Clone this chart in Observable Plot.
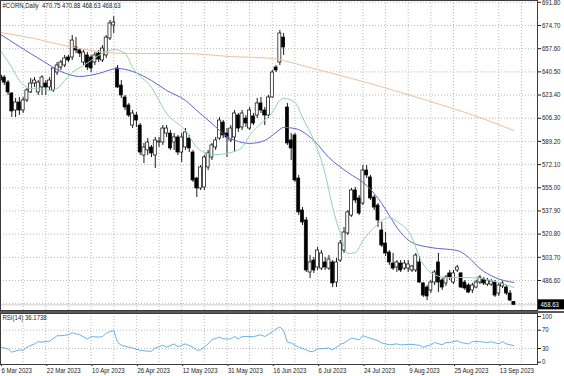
<!DOCTYPE html>
<html><head><meta charset="utf-8">
<script src="https://cdn.jsdelivr.net/npm/d3@7"></script>
<script src="https://cdn.jsdelivr.net/npm/@observablehq/plot@0.6"></script>
<style>
html,body{margin:0;padding:0;background:#fff;}
#chart{width:564px;height:376px;overflow:hidden;position:relative;}
#chart svg{display:block;}
#main svg{border-bottom:2px solid #5a5a5a;}
</style></head>
<body><div id="chart"><div id="main"></div><div id="rsi"></div></div>
<script>
const symbolTitle = "#CORN,Daily\u00a0 470.75 470.88 468.63 468.63";
const rsiTitle = "RSI(14) 36.1738";

const opens = [637.8,636.3,632.6,624.5,612.0,617.9,612.0,619.4,625.3,631.9,
625.3,629.0,631.9,629.0,626.8,640.0,643.7,645.2,651.1,651.1,
658.5,656.3,647.4,652.6,651.1,647.4,654.0,648.9,652.6,665.1,
674.7,643.0,630.4,621.6,615.7,600.9,608.3,600.9,578.8,582.5,
584.7,578.8,588.4,588.4,595.0,595.0,588.4,592.1,581.0,584.7,
591.3,581.0,561.8,554.5,555.2,570.0,577.3,584.7,591.3,603.1,
595.0,589.9,592.1,608.3,599.5,606.1,598.7,607.6,608.3,617.2,
612.0,608.3,621.6,643.7,647.4,665.8,614.2,589.9,593.6,561.8,
538.2,530.9,492.5,501.3,496.2,495.4,499.9,495.4,499.9,485.1,
501.3,508.7,521.3,534.5,553.0,547.1,543.4,567.7,562.6,547.8,
541.9,523.5,513.9,507.2,499.1,496.2,499.1,495.4,495.4,494.0,
494.0,499.9,484.4,481.4,479.2,485.1,499.9,486.6,484.4,491.8,
485.1,494.0,491.8,485.1,482.9,479.2,481.4,485.1,487.3,483.6,
483.6,485.1,477.0,482.2,481.4,477.0,470.75];
const highs = [640.0,637.8,634.1,625.3,620.9,621.6,621.6,628.2,635.6,636.3,
634.1,637.8,634.1,636.3,643.7,647.4,648.9,652.6,652.6,667.3,
665.8,657.7,656.3,654.8,652.6,654.8,656.3,659.9,667.3,678.4,
681.3,645.2,634.1,623.1,617.2,612.0,610.5,602.4,587.7,591.3,
586.2,592.1,592.1,600.9,600.9,597.2,595.0,593.6,595.0,598.7,
593.6,582.5,562.6,571.4,578.8,582.5,587.7,592.1,606.8,604.6,
598.7,600.9,612.0,609.8,612.0,608.3,614.2,609.8,620.9,621.6,
614.2,623.1,641.5,645.2,671.0,668.8,617.2,595.0,595.0,564.1,
540.4,533.1,505.0,503.6,510.9,508.7,503.6,505.0,501.3,502.8,
516.1,525.7,538.2,554.5,555.2,549.3,571.4,571.4,564.1,549.3,
543.4,529.4,522.0,508.7,506.5,501.3,501.3,501.3,501.3,497.7,
506.5,504.3,485.1,482.9,486.6,494.0,506.5,488.1,490.3,494.0,
494.0,497.7,492.5,486.6,484.4,484.4,486.6,490.3,488.8,488.1,
487.3,486.6,484.4,485.9,482.9,479.2,470.88];
const lows = [631.9,630.4,623.1,606.8,606.8,608.3,609.8,617.9,624.5,629.0,
623.1,623.1,623.1,626.8,625.3,637.8,641.5,643.7,647.4,648.9,
654.0,651.1,645.2,641.5,640.0,645.2,647.4,647.4,650.4,663.6,
668.8,628.2,620.9,612.0,606.8,598.7,599.5,578.8,572.9,578.8,
577.3,569.2,584.7,586.2,592.1,582.5,582.5,578.8,573.6,582.5,
581.0,558.9,547.8,553.0,553.0,567.7,575.1,582.5,589.9,591.3,
577.3,588.4,581.0,595.8,597.2,599.5,597.2,600.9,606.1,609.8,
600.9,606.1,620.9,640.0,645.2,652.6,586.2,575.1,558.9,534.5,
527.2,492.5,488.1,491.8,494.0,494.0,494.0,494.0,481.4,481.4,
499.9,506.5,519.8,533.1,543.4,534.5,541.9,561.8,545.6,538.2,
525.7,510.9,504.3,497.7,494.0,492.5,492.5,494.0,492.5,492.5,
492.5,484.4,474.1,471.8,477.0,482.9,477.7,479.2,482.2,486.6,
483.6,492.5,480.7,479.2,477.0,477.0,480.7,483.6,482.9,482.2,
482.2,474.1,474.8,480.7,475.5,471.1,468.63];
const closes = [634.1,632.6,625.3,611.3,617.9,612.0,619.4,626.8,631.9,634.1,
632.6,636.3,629.0,634.1,643.0,645.2,647.4,650.4,648.9,663.6,
656.3,654.0,654.8,643.7,643.0,652.6,649.6,657.7,665.8,676.2,
676.9,629.0,623.1,614.2,608.3,609.8,604.6,581.0,584.7,588.4,
580.3,589.9,589.1,598.7,598.7,584.0,592.1,581.0,592.1,595.8,
584.0,560.4,554.5,570.0,577.3,580.3,586.2,589.9,604.6,593.6,
592.1,598.7,609.8,598.7,609.8,602.4,612.0,602.4,617.2,612.0,
608.3,621.6,640.0,641.5,668.8,658.5,587.7,584.0,560.4,536.8,
529.4,494.0,499.9,494.0,508.7,506.5,496.2,502.1,484.4,499.9,
513.9,522.0,536.8,553.0,545.6,536.0,567.7,564.1,547.1,540.4,
530.9,512.4,506.5,499.9,495.4,499.9,494.0,499.1,498.4,496.9,
505.0,485.1,475.5,474.8,485.1,492.5,485.1,481.4,488.8,488.8,
491.8,496.2,481.4,480.7,477.7,482.9,485.1,488.8,484.4,486.6,
485.9,475.5,482.9,484.4,477.0,471.8,468.63];

// moving averages (bar index, value)
const ma10Bars = [0,3,5,8,11,13,15,17,19,22,24,26,29,30,33,35,40,44,49,52,55,57,61,64,66,69,72,74,75,78,80,83,86,88,90,92,94,96,99,103,105,109,111,114,118,123,127,132,136];
const ma10Vals = [656.3,643.7,634.1,628.2,627.5,626.8,628.2,634.1,640.0,645.2,648.9,652.6,656.3,657.0,654.0,643.7,629.0,609.8,597.2,584.7,580.3,579.5,581.0,584.7,593.6,602.4,610.5,619.4,620.9,617.9,606.8,589.9,565.5,540.4,521.3,506.5,507.2,516.1,525.7,533.1,530.1,518.3,503.6,492.5,488.8,488.8,488.1,485.1,481.4];
const ma20Bars = [0,5,11,16,21,26,31,35,40,44,49,52,56,60,64,66,70,73,75,78,83,87,92,97,101,103,106,109,114,121,124,127,131,136];
const ma20Vals = [668.1,659.2,648.9,640.8,637.1,639.3,643.0,640.8,634.1,626.8,619.4,612.0,602.4,592.8,588.4,587.7,589.9,595.8,599.5,598.7,589.9,577.3,566.3,556.7,543.4,534.5,522.0,514.6,510.9,508.7,503.6,495.4,488.8,485.1];
const ma200Bars = [0,9,18,26,34,49,61,72,75,79,87,97,106,119,127,136];
const ma200Vals = [669.5,665.1,659.2,655.5,654.0,654.0,651.8,650.4,648.9,645.9,640.0,632.6,625.3,614.2,606.8,597.2];

const rsiBars = [0,2,3,5,6,7,9,10,11,13,15,16,18,19,21,23,24,26,27,28,29,30,31,32,34,35,37,39,40,41,43,44,46,47,49,51,52,53,55,56,58,59,61,62,63,64,67,69,70,72,73,74,75,76,77,79,81,82,83,84,87,88,90,91,93,94,95,96,97,100,101,103,105,106,109,111,112,114,115,117,118,119,121,122,124,125,127,129,130,132,133,134,136];
const rsiVals = [33,29,22,27,26,33,40,45,44,46,58,58,60,64,60,51,56,55,56,63,67,69,44,37,33,31,26,24,24,31,37,33,40,34,40,33,26,27,40,49,55,51,51,56,51,56,56,60,56,66,73,77,69,44,42,33,27,23,24,29,31,27,39,42,53,51,49,58,55,47,42,38,40,38,39,37,33,38,43,38,43,43,47,43,40,45,45,43,45,40,45,40,36.17];

const priceTicks = [691.8,674.7,657.6,640.5,623.4,606.3,589.2,572.1,555.0,537.9,520.8,503.7,486.6];
const priceGrid = [...priceTicks, 469.5];
const rsiTicks = [100,70,30,0];
const rsiLevels = [70,30];
const dateBars = [0,12,24,36,48,60,72,84,96,108,120,132];
const dateLabels = ["6 Mar 2023","22 Mar 2023","10 Apr 2023","26 Apr 2023","12 May 2023","31 May 2023","16 Jun 2023","6 Jul 2023","24 Jul 2023","9 Aug 2023","25 Aug 2023","13 Sep 2023"];
const gridBars = d3.range(6, 142, 6);

const candles = opens.map((o, i) => ({i, open: o, high: highs[i], low: lows[i], close: closes[i]}));
const pair = (bars, vals) => bars.map((b, k) => ({i: b, v: vals[k]}));
const ma10 = pair(ma10Bars, ma10Vals), ma20 = pair(ma20Bars, ma20Vals), ma200 = pair(ma200Bars, ma200Vals);
const rsi = pair(rsiBars, rsiVals);
const lastClose = closes[closes.length - 1];

const style = {fontFamily: "'Liberation Sans', Arial, sans-serif", fontSize: "7px", color: "#1a1a1a", background: "#fff", overflow: "visible"};
const gridOpts = {stroke: "#b9b9b9", strokeDasharray: "1,2", strokeWidth: 1};
const xDomain = [0, 142.25];

const mainChart = Plot.plot({
  width: 564, height: 311, marginLeft: 0, marginRight: 27, marginTop: 0, marginBottom: 1,
  style,
  x: {domain: xDomain, axis: null},
  y: {domain: [464.46, 693.14]},
  marks: [
    Plot.ruleY(priceGrid, gridOpts),
    Plot.ruleX(gridBars, gridOpts),
    Plot.ruleY([lastClose], {stroke: "#d0d0d0"}),
    Plot.ruleX(candles, {x: "i", y1: "low", y2: "high", stroke: "#000", strokeWidth: 0.9}),
    Plot.rect(candles, {x1: d => d.i - 0.4, x2: d => d.i + 0.4, y1: "open", y2: "close",
      fill: d => d.close >= d.open ? "#fff" : "#000", stroke: "#000", strokeWidth: 0.7}),
    Plot.line(ma200, {x: "i", y: "v", stroke: "#f0bf98", strokeWidth: 1, curve: "monotone-x"}),
    Plot.line(ma20, {x: "i", y: "v", stroke: "#6262d6", strokeWidth: 1, curve: "monotone-x"}),
    Plot.line(ma10, {x: "i", y: "v", stroke: "#90d2b6", strokeWidth: 1, curve: "monotone-x"}),
    Plot.axisY(priceTicks, {anchor: "right", tickSize: 3, tickPadding: 1.5, tickFormat: d3.format(".2f"), label: null}),
    Plot.text([symbolTitle], {text: d => d, frameAnchor: "top-left", dx: 2, dy: 3, textAnchor: "start", lineAnchor: "top", fill: "#1a1a1a"}),
    Plot.frame({stroke: "#3c3c3c"})
  ]
});

const rsiChart = Plot.plot({
  width: 564, height: 63, marginLeft: 0, marginRight: 27, marginTop: 0, marginBottom: 12,
  style,
  x: {domain: xDomain},
  y: {domain: [-5.03, 106.56]},
  marks: [
    Plot.ruleX(gridBars, gridOpts),
    Plot.ruleY(rsiLevels, gridOpts),
    Plot.line(rsi, {x: "i", y: "v", stroke: "#5aa8e6", strokeWidth: 0.9}),
    Plot.axisY(rsiTicks, {anchor: "right", tickSize: 3, tickPadding: 1.5, label: null}),
    Plot.axisX(dateBars, {anchor: "bottom", tickSize: 2, tickPadding: 2, textAnchor: "start", dx: 1,
      tickFormat: d => dateLabels[dateBars.indexOf(d)], label: null}),
    Plot.text([rsiTitle], {text: d => d, frameAnchor: "top-left", dx: 2, dy: 2, textAnchor: "start", lineAnchor: "top", fill: "#1a1a1a"}),
    Plot.frame({stroke: "#3c3c3c"})
  ]
});

document.getElementById("main").append(mainChart);
document.getElementById("rsi").append(rsiChart);

// current price tag on the price axis
const yy = mainChart.scale("y").apply(lastClose);
const tag = d3.select(mainChart).append("g").attr("text-anchor", "start");
tag.append("rect").attr("x", 538).attr("y", yy - 5).attr("width", 26).attr("height", 10).attr("fill", "#000");
tag.append("text").attr("x", 540.5).attr("y", yy).attr("dy", "0.35em").attr("fill", "#fff")
  .attr("text-anchor", "start").attr("font-size", 7).text(d3.format(".2f")(lastClose));

// narrow the text like the reference's condensed UI font
function squish(svg, k) {
  svg.querySelectorAll("text").forEach(t => {
    const w = t.getComputedTextLength();
    if (w > 0) { t.setAttribute("textLength", (w * k).toFixed(2)); t.setAttribute("lengthAdjust", "spacingAndGlyphs"); }
  });
}
squish(mainChart, 0.86);
squish(rsiChart, 0.86);
</script>
</body></html>
